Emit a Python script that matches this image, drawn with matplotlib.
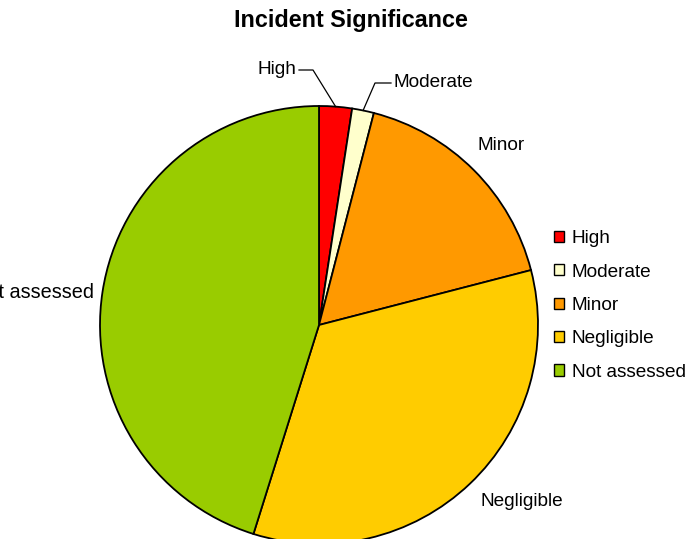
import matplotlib
matplotlib.use("Agg")
import matplotlib.pyplot as plt
from matplotlib.patches import Patch
import numpy as np

categories = ["High", "Moderate", "Minor", "Negligible", "Not assessed"]
values = [3, 2, 21, 42, 56]
colors = ["#FF0000", "#FFFFCC", "#FF9900", "#FFCC00", "#99CC00"]
title = "Incident Significance"

W, H = 692, 539
CX, CY, R = 319, 325, 219

plt.rcParams['font.family'] = ['Liberation Sans', 'DejaVu Sans']

fig = plt.figure(figsize=(W / 100, H / 100), dpi=100)
ax = fig.add_axes([0, 0, 1, 1])

def px(x, y):
    return (x - CX) / R, (CY - y) / R

wedges, _ = ax.pie(values, colors=colors, startangle=90, counterclock=False,
                   radius=1.0, center=(0, 0), frame=True,
                   wedgeprops=dict(edgecolor="black", linewidth=1.3))
ax.set_xlim(-CX / R, (W - CX) / R)
ax.set_ylim((CY - H) / R, CY / R)
ax.set_aspect('auto')
ax.axis('off')

fs = 13.7

# labels with leader lines for small slices
for i, (elbow, end, align) in enumerate([((313, 70), (299, 70), 'right'),
                                         ((375, 83), (391, 83), 'left')]):
    w = wedges[i]
    th = np.deg2rad((w.theta1 + w.theta2) / 2)
    sx, sy = np.cos(th), np.sin(th)
    ex, ey = px(*elbow)
    tx, ty = px(*end)
    ax.plot([sx, ex, tx], [sy, ey, ty], color="black", lw=0.9)
    off = -0.01 if align == 'right' else 0.01
    ax.text(tx + off, ty, categories[i], ha=align, va='center', fontsize=fs)

x, y = px(501, 146)
ax.text(x, y, categories[2], ha='center', va='center', fontsize=fs)
x, y = px(522, 502)
ax.text(x, y, categories[3], ha='center', va='center', fontsize=fs)
x, y = px(94, 292)
ax.text(x, y, categories[4], ha='right', va='center', fontsize=14.3)

fig.text(351 / W, 1 - 21 / H, title, ha='center', va='center',
         fontsize=16.8, fontweight='bold')

handles = [Patch(facecolor=c, edgecolor='black', linewidth=1.0) for c in colors]
fig.legend(handles, categories, loc='center left',
           bbox_to_anchor=(554 / W, 1 - 305.5 / H), frameon=False,
           fontsize=fs, handlelength=0.52, handleheight=0.52,
           handletextpad=0.42, labelspacing=0.86, borderpad=0, borderaxespad=0)

fig.savefig("out.png", dpi=100)
